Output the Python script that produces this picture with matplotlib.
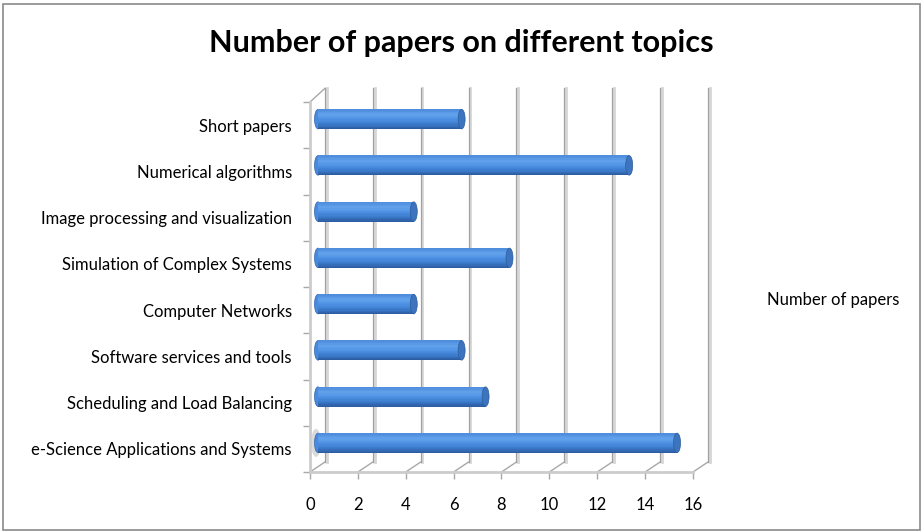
import matplotlib
matplotlib.use('Agg')
import matplotlib.pyplot as plt
import numpy as np
from matplotlib.patches import Ellipse, Rectangle
from matplotlib.colors import LinearSegmentedColormap

# data, bottom to top as drawn
topics = ['e-Science Applications and Systems', 'Scheduling and Load Balancing',
          'Software services and tools', 'Computer Networks',
          'Simulation of Complex Systems', 'Image processing and visualization',
          'Numerical algorithms', 'Short papers']
papers = [15, 7, 6, 4, 8, 4, 13, 6]
x_ticks = [0, 2, 4, 6, 8, 10, 12, 14, 16]
series_name = 'Number of papers'

plt.rcParams['font.family'] = ['Lato', 'DejaVu Sans']

W, H = 923, 532
fig = plt.figure(figsize=(W / 100, H / 100), dpi=100)
# front plane of the 3d box, in pixels
left_px, right_px, top_px, bot_px = 310, 693, 102, 472
ax = fig.add_axes([left_px / W, (H - bot_px) / H, (right_px - left_px) / W, (bot_px - top_px) / H])
ax.set_xlim(0, 16)
ax.set_ylim(0, len(topics))
ax.patch.set_alpha(0)

px_x = (right_px - left_px) / 16.0          # pixels per x unit
px_y = (bot_px - top_px) / len(topics)     # pixels per category
# depth offsets (pixels -> data units)
bdx, bdy = 15 / px_x, 10 / px_y            # back wall
mdx, mdy = 8 / px_x, 6 / px_y              # middle, where bars sit

# back wall gridlines
for x in x_ticks:
    ax.plot([x + bdx + 0.07, x + bdx + 0.07], [bdy, len(topics) + bdy + 0.08],
            color='#d6d6d6', lw=2.0, clip_on=False, zorder=1)
    ax.plot([x + bdx, x + bdx], [bdy, len(topics) + bdy + 0.08],
            color='#a0a0a0', lw=0.9, clip_on=False, zorder=1.1)
    # floor diagonals
    ax.plot([x, x + bdx], [0, bdy], color='#a8a8a8', lw=1.0, clip_on=False, zorder=1)
# left wall top diagonal
ax.plot([0, bdx], [len(topics), len(topics) + bdy + 0.08], color='#a8a8a8', lw=1.0,
        clip_on=False, zorder=1)

# front axis lines
for s in ['top', 'right']:
    ax.spines[s].set_visible(False)
for s in ['left', 'bottom']:
    ax.spines[s].set_color('#cccccc')
    ax.spines[s].set_linewidth(2.0)

# shadow at the base of the first bar
ax.add_patch(Ellipse((0.25, 0.5 + mdy), 10 / px_x, 28 / px_y, facecolor='#c4c4c4',
                     edgecolor='none', alpha=0.6, zorder=2, clip_on=False))

# cylinder bars built from thin strips for the shading
shade = LinearSegmentedColormap.from_list('cyl', ['#2a589c', '#3b7acb', '#4d91e4', '#63a2ec', '#4b8bdb'])
bar_h = 19.5 / px_y
n_strip = 16
ypos = np.arange(len(topics)) + 0.5
for k in range(n_strip):
    frac = (k + 0.5) / n_strip
    ax.barh(ypos + mdy - bar_h / 2 + (k + 0.5) * bar_h / n_strip, papers,
            height=bar_h / n_strip * 1.6, left=mdx, color=shade(frac), lw=0, zorder=3)
cap_w = 7 / px_x
for y, v in zip(ypos, papers):
    yc = y + mdy
    ax.add_patch(Ellipse((mdx, yc), cap_w, bar_h, facecolor='#4a8ade', edgecolor='#3366aa',
                         lw=0.5, zorder=2.9, clip_on=False))
    ax.add_patch(Ellipse((v + mdx, yc), cap_w, bar_h, facecolor='#3d74bf', edgecolor='#2f5c98',
                         lw=0.5, zorder=3.2, clip_on=False))

ax.set_xticks(x_ticks)
ax.set_xticklabels([str(t) for t in x_ticks], fontsize=12)
ax.set_yticks(ypos)
ax.set_yticklabels(topics, fontsize=12)
ax.set_yticks(np.arange(len(topics) + 1), minor=True)
ax.tick_params(axis='y', which='major', length=0, pad=13)
ax.tick_params(axis='y', which='minor', length=5, width=1, color='#a8a8a8', direction='out')
ax.tick_params(axis='x', length=5, width=1, color='#a8a8a8', pad=13)

fig.text(0.5, 1 - 43 / H, 'Number of papers on different topics', ha='center', va='center',
         fontsize=22, fontweight='bold')
fig.text(833 / W, 1 - 300 / H, series_name, ha='center', va='center', fontsize=12)

# chart border
fig.patches.append(Rectangle((3 / W, 2 / H), (W - 6) / W, (H - 6) / H, transform=fig.transFigure,
                             fill=False, edgecolor='#8a8a8a', lw=1.2))

fig.savefig('out.png', dpi=100)
